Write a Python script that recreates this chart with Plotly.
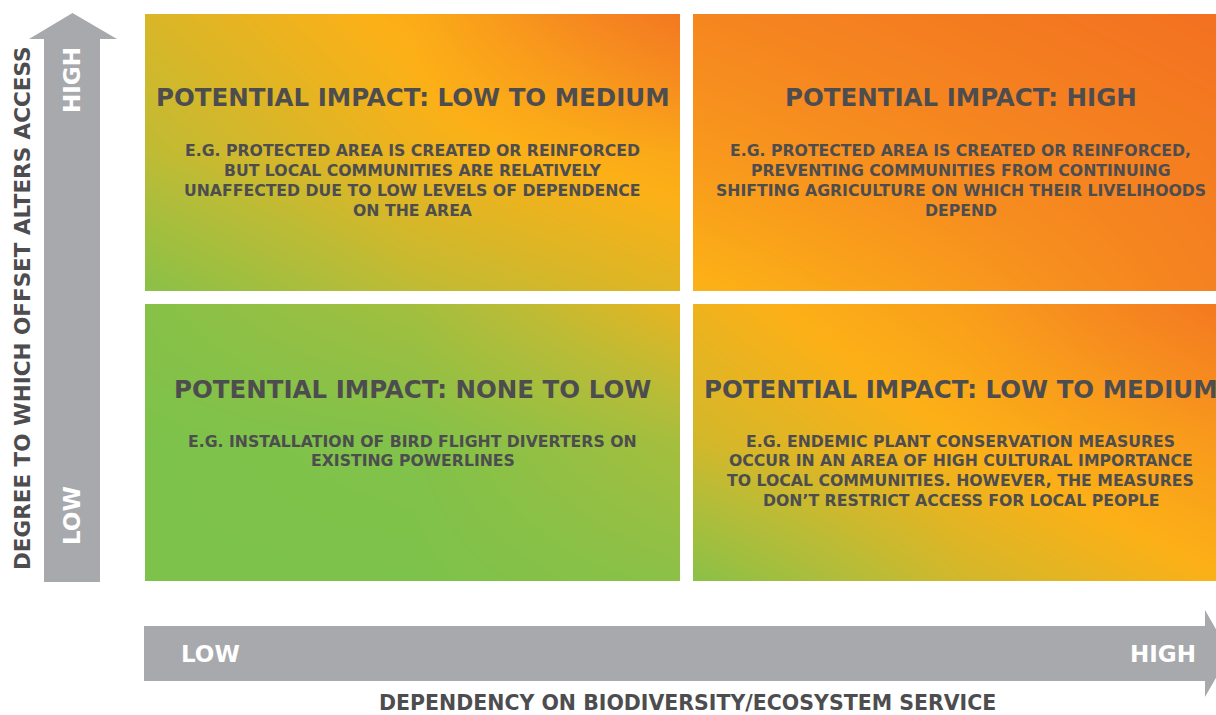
import plotly.graph_objects as go

W, H = 1216, 715

# ---- data -------------------------------------------------------------
# impact colour level (0 = green, 0.5 = yellow, 1 = orange) sampled on a 3x3 grid
# rows: bottom, middle, top ; columns: left, centre, right
grid_top_left = [[0.05, 0.27, 0.40],
                 [0.27, 0.45, 0.56],
                 [0.37, 0.53, 0.93]]
grid_top_right = [[0.48, 0.65, 0.85],
                  [0.66, 0.78, 0.90],
                  [0.80, 0.90, 1.00]]
grid_bottom_left = [[0.00, 0.00, 0.06],
                    [0.00, 0.02, 0.17],
                    [0.04, 0.16, 0.43]]
grid_bottom_right = [[0.05, 0.34, 0.50],
                     [0.34, 0.50, 0.66],
                     [0.45, 0.62, 0.93]]

grid_pos = [0, 0.5, 1]

titles = ["POTENTIAL IMPACT: LOW TO MEDIUM",
          "POTENTIAL IMPACT: HIGH",
          "POTENTIAL IMPACT: NONE TO LOW",
          "POTENTIAL IMPACT: LOW TO MEDIUM"]
examples = [
    ["E.G. PROTECTED AREA IS CREATED OR REINFORCED",
     "BUT LOCAL COMMUNITIES ARE RELATIVELY",
     "UNAFFECTED DUE TO LOW LEVELS OF DEPENDENCE",
     "ON THE AREA"],
    ["E.G. PROTECTED AREA IS CREATED OR REINFORCED,",
     "PREVENTING COMMUNITIES FROM CONTINUING",
     "SHIFTING AGRICULTURE ON WHICH THEIR LIVELIHOODS",
     "DEPEND"],
    ["E.G. INSTALLATION OF BIRD FLIGHT DIVERTERS ON",
     "EXISTING POWERLINES"],
    ["E.G. ENDEMIC PLANT CONSERVATION MEASURES",
     "OCCUR IN AN AREA OF HIGH CULTURAL IMPORTANCE",
     "TO LOCAL COMMUNITIES. HOWEVER, THE MEASURES",
     "DON\u2019T RESTRICT ACCESS FOR LOCAL PEOPLE"],
]
y_axis_title = "DEGREE TO WHICH OFFSET ALTERS ACCESS"
x_axis_title = "DEPENDENCY ON BIODIVERSITY/ECOSYSTEM SERVICE"
low_label, high_label = "LOW", "HIGH"

# ---- styling ------------------------------------------------------------
colorscale = [[0.0, "#7dc24b"], [0.25, "#b9bc37"], [0.5, "#fcb017"],
              [0.75, "#f68c1f"], [1.0, "#f37021"]]
TEXT = "#4d4d4f"
GREY = "#a7a9ac"
FONT = "DejaVu Sans"


def px(x):
    return x / W


def py(y):
    return 1 - y / H


# quadrant pixel boxes: (left, right, top, bottom), right quadrants extend past the edge
QW = 535
boxes = [(145, 145 + QW, 14, 291), (693, 693 + QW, 14, 291),
         (145, 145 + QW, 304, 581), (693, 693 + QW, 304, 581)]
grids = [grid_top_left, grid_top_right, grid_bottom_left, grid_bottom_right]

fig = go.Figure()
layout_axes = {}
for i, (box, g) in enumerate(zip(boxes, grids)):
    l, r, t, b = box
    vis_r = min(r, W)
    n = "" if i == 0 else str(i + 1)
    fig.add_trace(go.Heatmap(z=g, x=grid_pos, y=grid_pos, zmin=0, zmax=1,
                             colorscale=colorscale, zsmooth="best", showscale=False,
                             hoverinfo="skip", xaxis="x" + n, yaxis="y" + n))
    layout_axes["xaxis" + n] = dict(domain=[px(l), px(vis_r)],
                                    range=[0, (vis_r - l) / (r - l)], visible=False,
                                    fixedrange=True, anchor="y" + n)
    layout_axes["yaxis" + n] = dict(domain=[py(b), py(t)], range=[0, 1], visible=False,
                                    fixedrange=True, anchor="x" + n)

fig.update_layout(**layout_axes)

annotations = []
title_y = [98, 98, 389, 389]
body_y0 = [151, 151, 441, 441]
for i, box in enumerate(boxes):
    l, r, t, b = box
    cx = (l + r) / 2
    annotations.append(dict(x=px(cx), y=py(title_y[i]), xref="paper", yref="paper",
                            text=titles[i], showarrow=False, xanchor="center",
                            yanchor="middle",
                            font=dict(family=FONT, size=24.5, color=TEXT, weight="bold")))
    for j, line in enumerate(examples[i]):
        annotations.append(dict(x=px(cx), y=py(body_y0[i] + j * 19.7), xref="paper",
                                yref="paper", text=line, showarrow=False,
                                xanchor="center", yanchor="middle",
                                font=dict(family=FONT, size=15.7, color=TEXT,
                                          weight="bold")))

# arrow labels
annotations += [
    dict(x=px(72), y=py(80), text=high_label, textangle=-90),
    dict(x=px(72), y=py(516), text=low_label, textangle=-90),
    dict(x=px(210), y=py(654), text=low_label, textangle=0),
    dict(x=px(1163), y=py(654), text=high_label, textangle=0),
]
for a in annotations[-4:]:
    a.update(xref="paper", yref="paper", showarrow=False, xanchor="center",
             yanchor="middle", font=dict(family=FONT, size=23, color="white",
                                         weight="bold"))

annotations += [
    dict(x=px(22), y=py(308), xref="paper", yref="paper", text=y_axis_title,
         textangle=-90, showarrow=False, xanchor="center", yanchor="middle",
         font=dict(family=FONT, size=21.5, color=TEXT, weight="bold")),
    dict(x=px(687), y=py(703), xref="paper", yref="paper", text=x_axis_title,
         showarrow=False, xanchor="center", yanchor="middle",
         font=dict(family=FONT, size=20.5, color=TEXT, weight="bold")),
]


def path(points):
    return "M " + " L ".join(f"{px(x):.5f},{py(y):.5f}" for x, y in points) + " Z"


v_arrow = [(44, 582), (44, 39), (29, 39), (72.5, 13), (117, 39), (100, 39), (100, 582)]
h_arrow = [(144, 626), (1205, 626), (1205, 610), (1230, 653.5), (1205, 697),
           (1205, 681), (144, 681)]
shapes = [dict(type="path", path=path(v_arrow), xref="paper", yref="paper",
               fillcolor=GREY, line=dict(width=0), layer="below"),
          dict(type="path", path=path(h_arrow), xref="paper", yref="paper",
               fillcolor=GREY, line=dict(width=0), layer="below")]

fig.update_layout(width=W, height=H, margin=dict(l=0, r=0, t=0, b=0),
                  paper_bgcolor="white", plot_bgcolor="white",
                  annotations=annotations, shapes=shapes, showlegend=False)

fig.write_html("out.html", config={"displayModeBar": False},
               post_script="document.body.style.margin='0';"
                           "document.body.style.overflow='hidden';")
